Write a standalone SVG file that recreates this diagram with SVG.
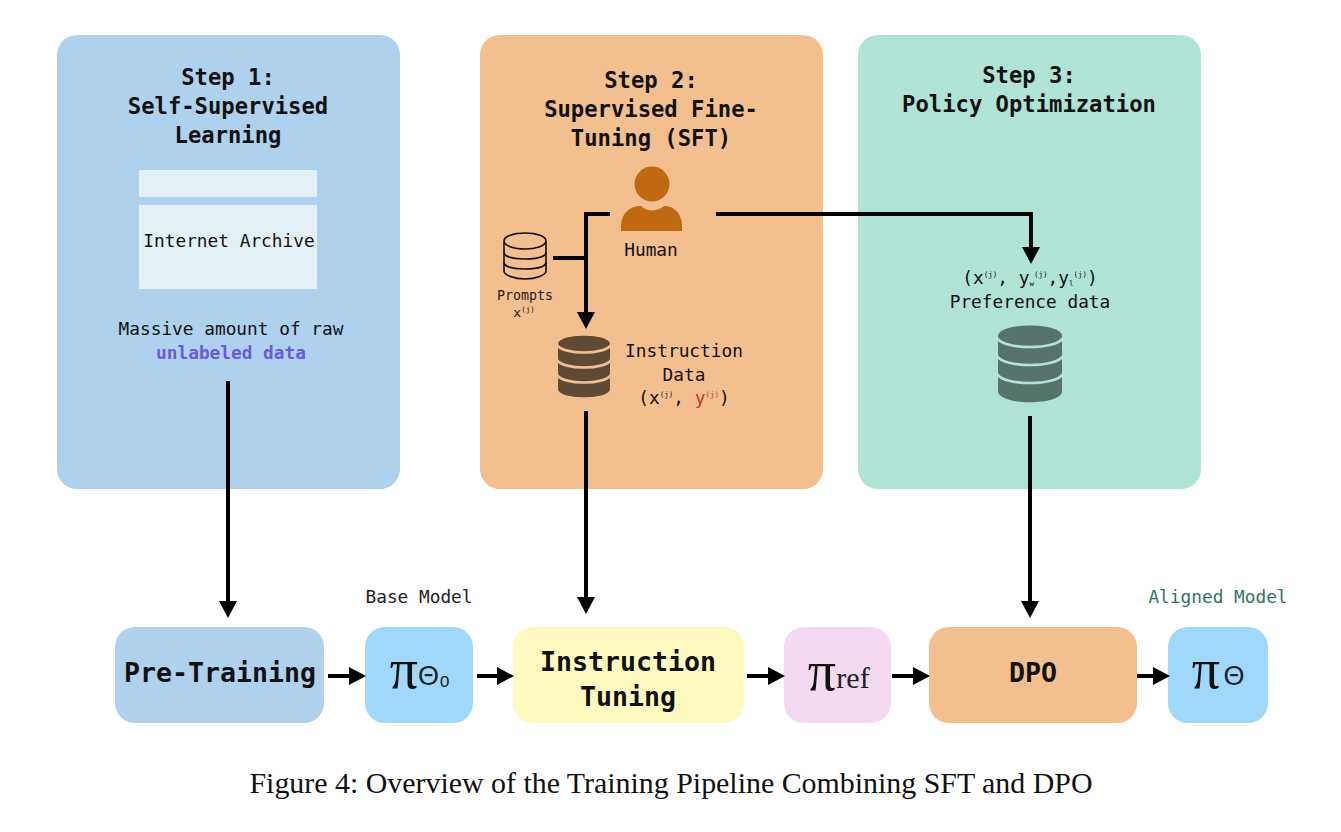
<svg xmlns="http://www.w3.org/2000/svg" width="1341" height="832" viewBox="0 0 1341 832">
<style>
text{font-family:"DejaVu Sans Mono","Liberation Mono",monospace;fill:#111;text-anchor:middle}
.t{font-size:22.2px;font-weight:bold}
.b{font-size:17.8px}
.sup{font-size:7.5px}
.big{font-size:26.6px;font-weight:bold}
.pi{font-family:"Liberation Serif","DejaVu Serif",serif;font-size:56px}
.sub{font-family:"Liberation Serif","DejaVu Sans",serif;font-size:30px;fill:#222}
.th{font-family:"Liberation Sans",sans-serif;font-size:27px;fill:#222}
.c{fill:none;stroke:#000;stroke-width:4}
.a{fill:none;stroke:#000;stroke-width:4;marker-end:url(#ah)}
.band{fill:none;stroke-width:2.6}
</style>
<defs>
<marker id="ah" markerUnits="userSpaceOnUse" markerWidth="20" markerHeight="20" refX="8" refY="9" orient="auto"><path d="M0 0L17 9L0 18Z" fill="#000"/></marker>
</defs>
<rect width="1341" height="832" fill="#fff"/>
<g id="step1">
<rect x="57" y="35" width="343" height="454" rx="20" fill="#aed2ed"/>
<text class="t" x="228" y="85">Step 1:</text>
<text class="t" x="228" y="114">Self-Supervised</text>
<text class="t" x="228" y="143">Learning</text>
<rect x="139" y="170" width="178" height="27" fill="#e3f1f6"/>
<rect x="139" y="205" width="178" height="84" fill="#e3f1f6"/>
<text class="b" x="229" y="247">Internet Archive</text>
<text class="b" x="231" y="335">Massive amount of raw</text>
<text class="b" x="231" y="359" style="fill:#6a5ae0;font-weight:bold">unlabeled data</text>
</g>
<g id="step2">
<rect x="480" y="35" width="343" height="454" rx="20" fill="#f3bf8e"/>
<text class="t" x="651" y="88">Step 2:</text>
<text class="t" x="651" y="117">Supervised Fine-</text>
<text class="t" x="651" y="146">Tuning (SFT)</text>
</g>
<g id="step3">
<rect x="858" y="35" width="343" height="454" rx="20" fill="#aee3d6"/>
<text class="t" x="1029" y="83">Step 3:</text>
<text class="t" x="1029" y="112">Policy Optimization</text>
</g>
<g id="human">
<circle cx="652" cy="184" r="17.5" fill="#bf6a10"/>
<path d="M621 231V226C621 213 630 206 641 206C647 212 657 212 664 206C674 206 682 213 682 226V231Z" fill="#bf6a10"/>
<text class="b" x="651" y="256">Human</text>
</g>
<g id="prompts" fill="none" stroke="#111" stroke-width="1.6">
<path d="M504 242V271C504 275 514 279 525 279C536 279 546 275 546 271V242"/>
<ellipse cx="525" cy="241" rx="21" ry="8"/>
<path d="M504 252C504 257 514 259 525 259C536 259 546 257 546 252M504 262C504 267 514 269 525 269C536 269 546 267 546 262"/>
<text x="525" y="300" style="font-size:13.3px;fill:#222;stroke:none">Prompts</text>
<text x="524" y="317" style="font-size:13px;fill:#222;stroke:none">x<tspan dy="-5" style="font-size:7.5px">(j)</tspan></text>
</g>
<g id="instruction-data">
<path d="M558 344C558 333 610 333 610 344V389C610 400 558 400 558 389Z" fill="#5f4a35"/>
<path class="band" stroke="#f3bf8e" d="M557 345C563 355 605 355 611 345M557 360C563 370 605 370 611 360M557 375C563 385 605 385 611 375"/>
<text class="b" x="684" y="357">Instruction</text>
<text class="b" x="684" y="381">Data</text>
<text class="b" x="684" y="404">(x<tspan class="sup" dy="-7">(j)</tspan><tspan dy="7">, </tspan><tspan style="fill:#c0392b">y</tspan><tspan class="sup" dy="-7" style="fill:#c0392b">(j)</tspan><tspan dy="7">)</tspan></text>
</g>
<g id="preference-data">
<text class="b" x="1030" y="284">(x<tspan class="sup" dy="-7">(j)</tspan><tspan dy="7">, y</tspan><tspan class="sup" dy="2">w</tspan><tspan class="sup" dy="-9">(j)</tspan><tspan dy="7">,y</tspan><tspan class="sup" dy="2">l</tspan><tspan class="sup" dy="-9">(j)</tspan><tspan dy="7">)</tspan></text>
<text class="b" x="1030" y="308">Preference data</text>
<path d="M998 336C998 322 1062 322 1062 336V391C1062 406 998 406 998 391Z" fill="#56736b"/>
<path class="band" stroke="#aee3d6" d="M997 338C1004 350 1056 350 1063 338M997 356C1004 368 1056 368 1063 356M997 374C1004 386 1056 386 1063 374"/>
</g>
<g id="pre-training"><rect x="115" y="627" width="209" height="96" rx="20" fill="#aed2ed"/><text class="big" x="220" y="682">Pre-Training</text></g>
<g id="pi-0"><text x="419" y="603" style="font-size:17.8px;fill:#222">Base Model</text><rect x="365" y="627" width="108" height="96" rx="20" fill="#9fd8fb"/><text class="pi" x="404" y="688">π</text><text class="th" x="434" y="685">Θ₀</text></g>
<g id="instruction-tuning"><rect x="513" y="627" width="231" height="96" rx="20" fill="#fdf9bf"/><text class="big" x="628" y="671">Instruction</text><text class="big" x="628" y="706">Tuning</text></g>
<g id="pi-ref"><rect x="784" y="627" width="107" height="96" rx="20" fill="#f3daf1"/><text class="pi" x="822" y="690">π</text><text class="sub" x="853" y="688">ref</text></g>
<g id="dpo"><rect x="929" y="627" width="208" height="96" rx="20" fill="#f3bf8e"/><text class="big" x="1033" y="682">DPO</text></g>
<g id="pi-theta"><text x="1218" y="603" style="font-size:17.8px;fill:#2f7560">Aligned Model</text><rect x="1168" y="627" width="100" height="96" rx="20" fill="#9fd8fb"/><text class="pi" x="1206" y="688">π</text><text class="th" x="1234" y="685">Θ</text></g>
<g id="connectors">
<path class="a" d="M228 381V609"/>
<path class="a" d="M586 411V605"/>
<path class="a" d="M1030 416V609"/>
<path class="c" d="M610 214H586V310"/>
<path class="c" d="M553 258H586"/>
<path class="a" d="M586 300V320"/>
<path class="a" d="M716 214H1031V255"/>
<path class="a" d="M328 676H357"/>
<path class="a" d="M477 676H505"/>
<path class="a" d="M747 676H776"/>
<path class="a" d="M892 676H921"/>
<path class="a" d="M1137 676H1161"/>
</g>
<text x="671" y="793" style="font-family:'Liberation Serif',serif;font-size:29.9px">Figure 4: Overview of the Training Pipeline Combining SFT and DPO</text>
</svg>
